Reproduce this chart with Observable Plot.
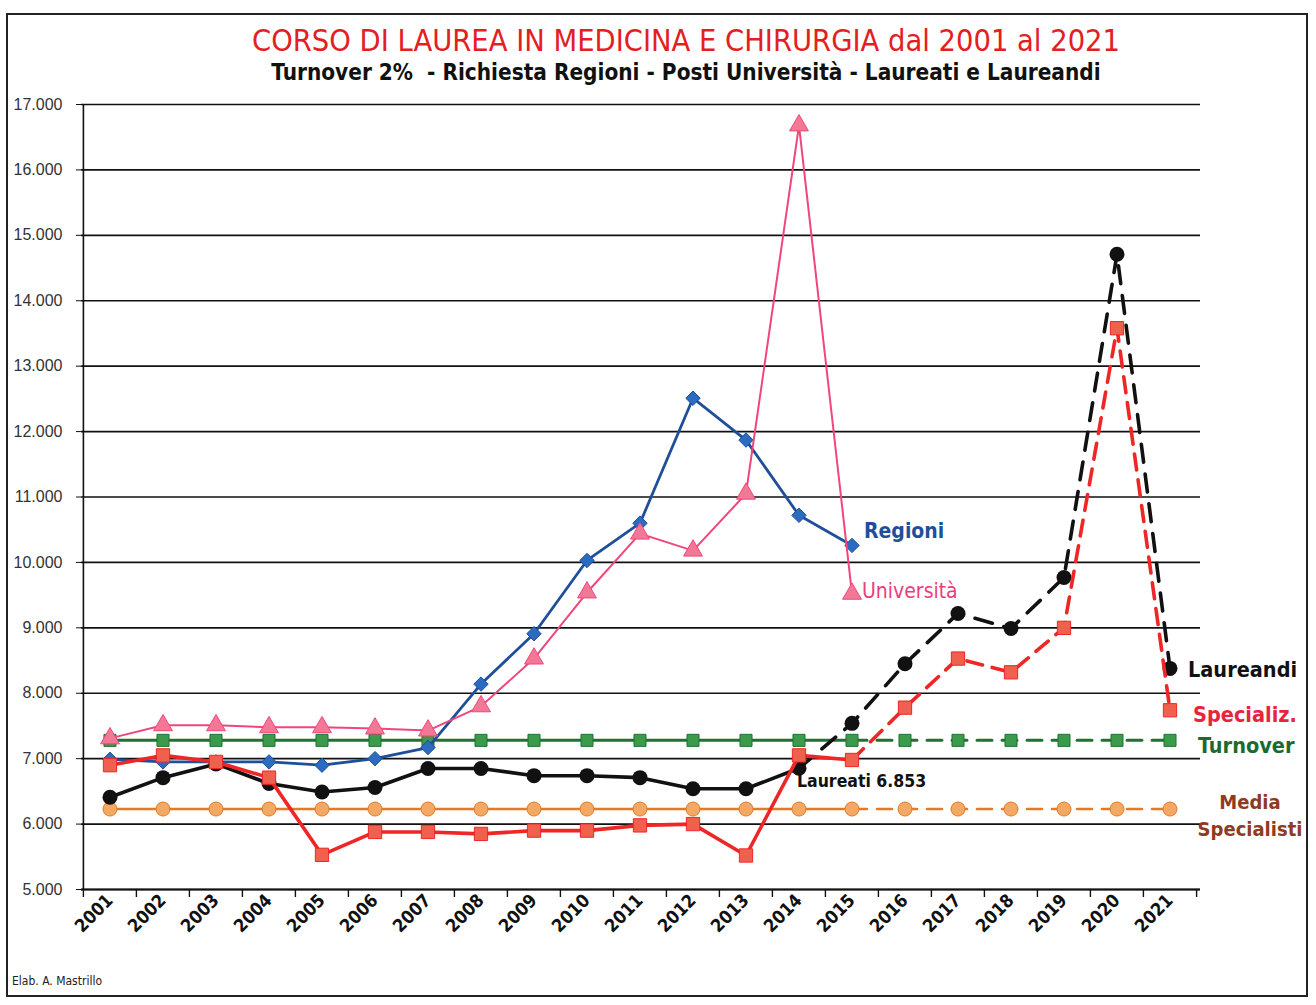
<!DOCTYPE html>
<html>
<head>
<meta charset="utf-8">
<script src="https://cdn.jsdelivr.net/npm/d3@7"></script>
<script src="https://cdn.jsdelivr.net/npm/@observablehq/plot@0.6"></script>
<style>
  html, body { margin: 0; padding: 0; background: #fff; }
  #wrap { position: relative; width: 1316px; height: 1005px; overflow: hidden; background: #fff; }
  #border { position: absolute; left: 6px; top: 13px; width: 1302px; height: 984px; border: 2px solid #222; box-sizing: border-box; pointer-events: none; }
  #title { position: absolute; left: 28px; width: 1316px; top: 23px; text-align: center; color: #e3201f;
    font-family: "Liberation Sans Narrow", "Arial Narrow", "DejaVu Sans Condensed", sans-serif; font-size: 30.5px; line-height: 36px; }
  #subtitle { position: absolute; left: 28px; width: 1316px; top: 59px; text-align: center; color: #111; font-weight: bold;
    font-family: "Liberation Sans Narrow", "Arial Narrow", "DejaVu Sans Condensed", sans-serif; font-size: 22.4px; line-height: 27px; }
  #credit { position: absolute; left: 12px; top: 974px; color: #222;
    font-family: "Liberation Sans Narrow", "Arial Narrow", "DejaVu Sans Condensed", sans-serif; font-size: 12px; }
  #chart { position: absolute; left: 0; top: 0; }
  #chart svg [aria-label^="x-axis"] text { font-family: "Liberation Sans Narrow", "Arial Narrow", "DejaVu Sans Condensed", sans-serif; font-size: 18px; font-weight: bold; fill: #111; }
  #chart svg [aria-label^="y-axis"] text { font-family: "Liberation Sans", Arial, sans-serif; font-size: 16px; fill: #333; }
  #chart svg [aria-label^="y-axis"] line, #chart svg [aria-label^="y-axis"] path { stroke: #111; }
</style>
</head>
<body>
<div id="wrap">
  <div id="chart"></div>
  <div id="title">CORSO DI LAUREA IN MEDICINA E CHIRURGIA dal 2001 al 2021</div>
  <div id="subtitle">Turnover 2% &nbsp;- Richiesta Regioni - Posti Università - Laureati e Laureandi</div>
  <div id="credit">Elab. A. Mastrillo</div>
  <div id="border"></div>
</div>
<script>
// ---- data ----
const years = ["2001","2002","2003","2004","2005","2006","2007","2008","2009","2010","2011","2012","2013","2014","2015","2016","2017","2018","2019","2020","2021"];
const yTicks = [5000, 6000, 7000, 8000, 9000, 10000, 11000, 12000, 13000, 14000, 15000, 16000, 17000];
const regioni    = [6990, 6950, 6950, 6950, 6900, 7000, 7170, 8140, 8910, 10030, 10600, 12510, 11870, 10720, 10260, null, null, null, null, null, null];
const universita = [7310, 7510, 7510, 7480, 7480, 7460, 7430, 7800, 8530, 9540, 10440, 10180, 11050, 16680, 9520, null, null, null, null, null, null];
const laureati   = [6410, 6710, 6920, 6620, 6490, 6560, 6850, 6850, 6740, 6740, 6710, 6540, 6540, 6853, null, null, null, null, null, null, null];
const laureandi  = [null, null, null, null, null, null, null, null, null, null, null, null, null, 6853, 7540, 8450, 9220, 8990, 9770, 14710, 8380];
const specializ  = [6900, 7050, 6950, 6710, 5530, 5880, 5880, 5850, 5900, 5900, 5980, 6000, 5520, 7050, 6980, 7780, 8530, 8320, 9000, 13580, 7740];
const turnover   = [7280, 7280, 7280, 7280, 7280, 7280, 7280, 7280, 7280, 7280, 7280, 7280, 7280, 7280, 7280, 7280, 7280, 7280, 7280, 7280, 7280];
const mediaSpec  = [6230, 6230, 6230, 6230, 6230, 6230, 6230, 6230, 6230, 6230, 6230, 6230, 6230, 6230, 6230, 6230, 6230, 6230, 6230, 6230, 6230];
const lastActual = "2015"; // last year of observed (solid) data
const seriesLabels = ["Regioni", "Università", "Laureandi", "Specializ.", "Turnover", "Media\nSpecialisti", "Laureati 6.853"];

// ---- layout ----
const W = 1316, H = 1005;
const mL = 81, mR = 118, mT = 104, mB = 116;
const bw = (W - mL - mR) / years.length;
const font = '"Liberation Sans Narrow", "Arial Narrow", "DejaVu Sans Condensed", sans-serif';

const rows = (vals) => years.map((x, i) => ({x, y: vals[i]})).filter(d => d.y != null);
const solid = (vals) => rows(vals).filter(d => +d.x <= +lastActual);
const dashed = (vals) => rows(vals).filter(d => +d.x >= +lastActual);
const last = (vals) => { const r = rows(vals); return r[r.length - 1]; };

const fmt = d3.formatLocale({decimal: ",", thousands: ".", grouping: [3], currency: ["", "€"]}).format(",");

const C = {
  blue: "#1f4e9a", blueFill: "#2c6cc0",
  pink: "#f0467c", pinkFill: "#f27896",
  red: "#ee2626", redFill: "#f0604e",
  green: "#1d7432", greenFill: "#3b9a4b",
  orange: "#e47a26", orangeFill: "#f3a963",
  black: "#111"
};
const dash = "15,10";

const lab = (i, vals, o) => Plot.text([{...last(vals), label: seriesLabels[i]}], {x: "x", y: "y", text: "label", fontFamily: font, textAnchor: "start", ...o});

const plot = Plot.plot({
  width: W, height: H,
  marginLeft: mL, marginRight: mR, marginTop: mT, marginBottom: mB,
  style: {background: "transparent", fontFamily: font},
  x: {type: "band", domain: years, padding: 0, tickSize: 0, tickRotate: -45, tickPadding: 8, label: null},
  y: {domain: [5000, 17000], ticks: yTicks, tickFormat: fmt, tickSize: 5, tickPadding: 14, label: null},
  marks: [
    // grid lines
    Plot.ruleY(yTicks, {stroke: "#111", strokeWidth: 1.6, insetRight: -2}),
    // y axis line
    Plot.ruleX([years[0]], {dx: -bw / 2, y1: yTicks[0], y2: yTicks[yTicks.length - 1], stroke: "#111", strokeWidth: 1.6}),
    // x axis ticks between categories
    Plot.ruleX(years, {dx: -bw / 2, y1: yTicks[0], y2: yTicks[0], insetBottom: -8, stroke: "#111", strokeWidth: 1.4}),
    Plot.ruleX([years[years.length - 1]], {dx: bw / 2, y1: yTicks[0], y2: yTicks[0], insetBottom: -8, stroke: "#111", strokeWidth: 1.4}),
    Plot.ruleY([yTicks[0]], {stroke: "#111", strokeWidth: 2.2, insetRight: -2}),

    // Media Specialisti
    Plot.line(solid(mediaSpec), {x: "x", y: "y", stroke: C.orange, strokeWidth: 2.6}),
    Plot.line(dashed(mediaSpec), {x: "x", y: "y", stroke: C.orange, strokeWidth: 2.6, strokeDasharray: dash}),
    Plot.dot(rows(mediaSpec), {x: "x", y: "y", r: 7, fill: C.orangeFill, stroke: C.orange, strokeWidth: 1}),

    // Turnover
    Plot.line(solid(turnover), {x: "x", y: "y", stroke: C.green, strokeWidth: 3}),
    Plot.line(dashed(turnover), {x: "x", y: "y", stroke: C.green, strokeWidth: 3, strokeDasharray: dash}),
    Plot.dot(rows(turnover), {x: "x", y: "y", symbol: "square", r: 6.8, fill: C.greenFill, stroke: C.green, strokeWidth: 1}),

    // Regioni
    Plot.line(rows(regioni), {x: "x", y: "y", stroke: C.blue, strokeWidth: 2.8}),
    Plot.dot(rows(regioni), {x: "x", y: "y", symbol: "diamond2", r: 6.5, fill: C.blueFill, stroke: C.blue, strokeWidth: 1}),

    // Università
    Plot.line(rows(universita), {x: "x", y: "y", stroke: C.pink, strokeWidth: 2}),
    Plot.dot(rows(universita), {x: "x", y: "y", symbol: "triangle", r: 7, fill: C.pinkFill, stroke: C.pink, strokeWidth: 1}),

    // Laureati (solid) and Laureandi (dashed)
    Plot.line(rows(laureati), {x: "x", y: "y", stroke: C.black, strokeWidth: 3.6}),
    Plot.line(rows(laureandi), {x: "x", y: "y", stroke: C.black, strokeWidth: 3.6, strokeDasharray: "18,12"}),
    Plot.dot(rows(laureati), {x: "x", y: "y", r: 7.5, fill: C.black}),
    Plot.dot(rows(laureandi).slice(1), {x: "x", y: "y", r: 7.5, fill: C.black}),

    // Specializzandi
    Plot.line(solid(specializ), {x: "x", y: "y", stroke: C.red, strokeWidth: 3.6}),
    Plot.line(dashed(specializ), {x: "x", y: "y", stroke: C.red, strokeWidth: 3.6, strokeDasharray: "16,10"}),
    Plot.dot(rows(specializ), {x: "x", y: "y", symbol: "square", r: 7.5, fill: C.redFill, stroke: C.red, strokeWidth: 1}),

    // series labels
    lab(0, regioni, {fill: C.blue, fontSize: 21, fontWeight: "bold", dx: 12, dy: -14}),
    lab(1, universita, {fill: "#e8407c", fontSize: 21, dx: 10, dy: -3}),
    lab(2, laureandi, {fill: C.black, fontSize: 21.5, fontWeight: "bold", dx: 18, dy: 2}),
    lab(3, specializ, {fill: "#e8243a", fontSize: 21.5, fontWeight: "bold", dx: 23, dy: 5}),
    lab(4, turnover, {fill: "#1b6a2f", fontSize: 21.5, fontWeight: "bold", dx: 28, dy: 6}),
    lab(5, mediaSpec, {fill: "#8e3b22", fontSize: 20, fontWeight: "bold", textAnchor: "middle", dx: 80, dy: 5, lineHeight: 1.35}),
    lab(6, laureati, {fill: C.black, fontSize: 17.5, fontWeight: "bold", dx: -2, dy: 13})
  ]
});
document.getElementById("chart").appendChild(plot);
</script>
</body>
</html>
